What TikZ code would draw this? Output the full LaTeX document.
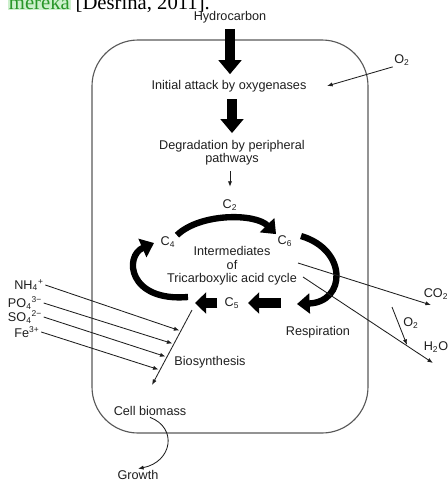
\documentclass[tikz,border=0pt]{standalone}
\usepackage{fontspec}
\setmainfont{Liberation Sans}
\newfontfamily\notefont{Liberation Serif}
\usetikzlibrary{arrows.meta}
\definecolor{notegreen}{RGB}{40,150,40}
\definecolor{notebg}{RGB}{205,240,205}
\definecolor{inkgray}{RGB}{30,30,30}

\begin{document}
\begin{tikzpicture}[x=0.025cm,y=-0.025cm,>={Latex[length=4pt,width=3pt]},
  every node/.style={font=\fontsize{9}{9.5}\selectfont,text=inkgray,inner sep=1pt},
  txt node/.style={align=center},
  thin line/.style={->,line width=0.6pt,draw=inkgray},
  fat arrow/.style={-{Triangle[length=10pt,width=16pt]},line width=7pt,draw=black},
  block arrow/.style={-{Triangle[length=8pt,width=15pt]},line width=7.5pt,draw=black},
  cycle arrow/.style={-{Triangle[length=9pt,width=14pt]},line width=4.5pt,draw=black}]

  \useasboundingbox (0,0) rectangle (448,483);

  % text above the figure
  \node[anchor=base west,inner sep=0pt,text=black] (note) at (8,9) {\notefont\fontsize{14.7}{16}\selectfont\setlength{\fboxsep}{0.5pt}\colorbox{notebg}{\textcolor{notegreen}{mereka}} [Desrina, 2011].};

  % cell
  \draw[black!65,line width=0.8pt,rounded corners=1.15cm] (92,40) rectangle (368,433);

  \node (hc) at (230,17) {Hydrocarbon};
  \node (attack) at (229,86) {Initial attack by oxygenases};
  \node[txt node] (degr) at (232,153) {Degradation by peripheral\\pathways};
  \node (o2a) at (402,60) {O\textsubscript{2}};
  \coordinate (o2aend) at (327,86);

  % cycle
  \node (c2) at (230,205) {C\textsubscript{2}};
  \node (c4) at (168,242) {C\textsubscript{4}};
  \node (c6) at (285,241) {C\textsubscript{6}};
  \node (c5) at (232,303) {C\textsubscript{5}};
  \node[txt node] (tca) at (232,266) {Intermediates\\of\\Tricarboxylic acid cycle};
  \coordinate (r0) at (301,236);
  \coordinate (r1) at (297,304);
  \coordinate (rb) at (281,303);
  \coordinate (lb) at (195,303);
  \coordinate (l0) at (188,297);
  \coordinate (l1) at (154,243);

  \node (resp) at (318,332) {Respiration};
  \node (co2) at (436,294) {CO\textsubscript{2}};
  \node (h2o) at (436,347) {H\textsubscript{2}O};
  \node (o2b) at (411,323) {O\textsubscript{2}};
  \coordinate (co2start) at (298,263);
  \coordinate (co2end) at (431,305);
  \coordinate (h2ostart) at (303,277);
  \coordinate (h2oend) at (433,363);
  \coordinate (o2bstart) at (392,307);
  \coordinate (o2bend) at (407,345);

  % ions
  \node (nh4) at (29,285) {NH\textsubscript{4}\textsuperscript{+}};
  \node (po4) at (25,303) {PO\textsubscript{4}\textsuperscript{3−}};
  \node (so4) at (25,317) {SO\textsubscript{4}\textsuperscript{2−}};
  \node (fe3) at (27,332) {Fe\textsuperscript{3+}};

  \node (bios) at (210,362) {Biosynthesis};
  \node (biom) at (150,411) {Cell biomass};
  \node (growth) at (138,475) {Growth};
  \coordinate (bstart) at (192,310);
  \coordinate (bend) at (152,385);
  \path (bstart) -- (bend) coordinate[pos=.28] (p1) coordinate[pos=.453] (p2)
    coordinate[pos=.627] (p3) coordinate[pos=.8] (p4);

  \draw[fat arrow,shorten <=3pt,shorten >=3pt] (hc.south) -- (hc |- attack.north);
  \draw[fat arrow,shorten <=4pt,shorten >=4pt] (attack.south -| degr) -- (degr.north);
  \draw[thin line,shorten <=3pt,shorten >=8pt] (degr.south -| c2) -- (c2.north);
  \draw[thin line] (o2a.south west) -- (o2aend);

  \draw[cycle arrow] (c4.north east) .. controls (200,213) and (255,213) .. (c6.north west);
  \draw[cycle arrow] (r0) .. controls (348,250) and (346,302) .. (r1);
  \draw[block arrow,shorten >=5pt] (rb) -- (c5.east);
  \draw[block arrow,shorten <=4pt] (c5.west) -- (lb);
  \draw[cycle arrow] (l0) .. controls (128,302) and (124,256) .. (l1);

  \draw[thin line] (co2start) -- (co2end);
  \draw[thin line] (h2ostart) -- (h2oend);
  \draw[thin line] (o2bstart) -- (o2bend);

  \draw[thin line] (bstart) -- (bend);
  \draw[thin line,shorten >=1pt] (nh4.east) -- (p1);
  \draw[thin line,shorten >=1pt] (po4.east) -- (p2);
  \draw[thin line,shorten >=1pt] (so4.east) -- (p3);
  \draw[thin line,shorten >=1pt] (fe3.east) -- (p4);

  \draw[thin line] (biom.south) .. controls (178,428) and (172,462) .. (growth.north);
\end{tikzpicture}
\end{document}
